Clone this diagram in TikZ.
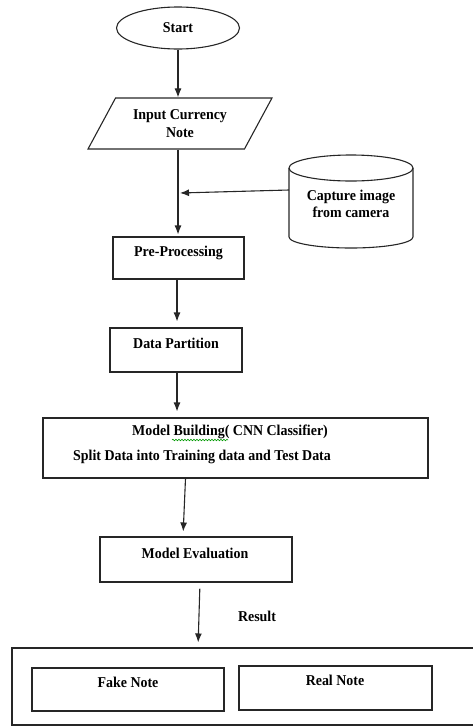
\documentclass[tikz,border=0pt]{standalone}
\usepackage{fontspec}
\setmainfont{Liberation Serif}[FakeStretch=0.93]
\usetikzlibrary{shapes.geometric, arrows.meta, decorations.pathmorphing}

\begin{document}
\begin{tikzpicture}[x=1pt, y=-1pt,
  line width=1.1pt,
  every node/.style={font=\fontsize{15}{17.5}\selectfont\bfseries, inner sep=0pt},
  frame/.style={draw=black!85, rectangle},
  arr/.style={draw=black!85, -{Latex[length=9pt,width=7pt]}}
]
\useasboundingbox (0,0) rectangle (472,726);

% start terminal
\node[draw=black!85, ellipse, minimum width=123pt, minimum height=42pt] (start) at (178,28) {Start};

% input parallelogram
\node[draw=black!85, trapezium, trapezium left angle=54, trapezium right angle=126,
      trapezium stretches=true, minimum width=184pt, minimum height=51pt, align=center]
      (input) at (180,123.5) {Input Currency\\Note};

% camera store (cylinder)
\draw[black!85] (351,168) ellipse [x radius=62pt, y radius=13pt];
\draw[black!85] (289,168) -- (289,237) arc[start angle=180, end angle=360, x radius=62pt, y radius=11pt] -- (413,168);
\node[align=center] (cam) at (351,204) {Capture image\\from camera};
\coordinate (cyl-w) at (289,190);
\coordinate (join) at (180,193);

% process boxes
\node[frame, minimum width=131pt, minimum height=42pt] (pre) at (178.5,258) {};
\node (pre-t) at (178.5,253) {Pre-Processing};

\node[frame, minimum width=132pt, minimum height=44pt] (part) at (176,350) {};
\node (part-t) at (176,343) {Data Partition};

\node[frame, minimum width=385pt, minimum height=60pt] (model) at (235.5,448) {};
\node (model-t1) at (230,432) {Model Building( CNN Classifier)};
\node (model-t2) at (202,457) {Split Data into Training data and Test Data};
\draw[green!60!black, line width=0.6pt, decorate,
      decoration={snake, amplitude=0.8pt, segment length=3pt}] (172,440) -- (228,440);

\node[frame, minimum width=192pt, minimum height=45pt] (eval) at (196,559.5) {};
\node (eval-t) at (195,553) {Model Evaluation};

\node (result) at (257,616) {Result};

% result container
\node[frame, minimum width=478pt, minimum height=77pt] (outer) at (251,686.5) {};
\node[frame, minimum width=192pt, minimum height=43pt] (fake) at (128,689.5) {};
\node (fake-t) at (128,682) {Fake Note};
\node[frame, minimum width=193pt, minimum height=44pt] (real) at (335.5,688) {};
\node (real-t) at (335,680) {Real Note};

% connectors
\draw[arr] (start.south) -- (start.south |- input.north);
\draw[arr, shorten >=2pt] (start.south |- input.south) -- (start.south |- pre.north);
\draw[arr] (cyl-w) -- (join);
\draw[arr, shorten >=6pt] ([xshift=-1.5pt]pre.south) -- ([xshift=-1.5pt]pre.south |- part.north);
\draw[arr, shorten >=6pt] ([xshift=1pt]part.south) -- ([xshift=1pt]part.south |- model.north);
\draw[arr, shorten >=5pt] ([xshift=-50pt]model.south) -- ([xshift=-13pt]eval.north);
\draw[arr, shorten <=6pt, shorten >=5pt] ([xshift=4pt]eval.south) -- ([xshift=-53pt]outer.north);
\end{tikzpicture}
\end{document}
